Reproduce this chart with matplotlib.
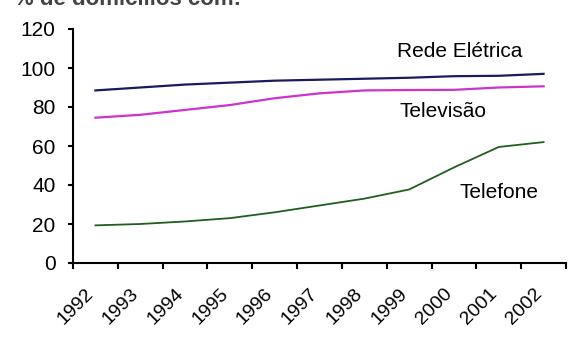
import matplotlib
matplotlib.use("Agg")
import matplotlib.pyplot as plt
import numpy as np

plt.rcParams['font.family'] = ['Liberation Sans', 'DejaVu Sans']

years = ["1992", "1993", "1994", "1995", "1996", "1997", "1998", "1999", "2000", "2001", "2002"]
rede_eletrica = [88.5, 90, 91.5, 92.5, 93.5, 94, 94.5, 95, 95.8, 96, 97]
televisao = [74.5, 76, 78.5, 81, 84.5, 87, 88.5, 88.7, 88.8, 90, 90.6]
telefone = [19.3, 20, 21.3, 23, 26, 29.5, 33, 37.7, 49, 59.5, 62]
yticks = [0, 20, 40, 60, 80, 100, 120]

fig = plt.figure(figsize=(5.88, 3.54), dpi=100)
ax = fig.add_axes([73/588, 1-263/354, (566-73)/588, (263-29)/354])

x = np.arange(len(years)) + 0.5
ax.plot(x, rede_eletrica, color="#1a1a5e", lw=1.6)
ax.plot(x, televisao, color="#cc33cc", lw=1.6)
ax.plot(x, telefone, color="#1f5f1f", lw=1.3)

ax.set_xlim(0, len(years))
ax.set_ylim(0, 120)
ax.set_yticks(yticks)
ax.set_yticklabels([str(v) for v in yticks], fontsize=15)
ax.set_xticks(np.arange(len(years) + 1))
ax.set_xticklabels([])
for i, yr in enumerate(years):
    ax.text(i + 0.27, -11.5, yr, rotation=45, ha='right', va='top', fontsize=14,
            rotation_mode='anchor', transform=ax.transData)

for s in ['top', 'right']:
    ax.spines[s].set_visible(False)
for s in ['left', 'bottom']:
    ax.spines[s].set_linewidth(1.5)
ax.tick_params(axis='y', direction='out', width=1.5, length=3.6, pad=9, colors='black')
ax.tick_params(axis='x', direction='out', width=1.5, length=4.5, colors='black')

ax.text(8.62, 108.5, "Rede Elétrica", ha='center', va='center', fontsize=15)
ax.text(8.26, 77.7, "Televisão", ha='center', va='center', fontsize=15)
ax.text(9.51, 36, "Telefone", ha='center', va='center', fontsize=15)

fig.text(14/588, 1 - 5/354, "% de domicílios com:", fontsize=16, fontweight='bold',
         color='#444444', va='baseline', ha='left')

fig.savefig("out.png", dpi=100, facecolor='white')
